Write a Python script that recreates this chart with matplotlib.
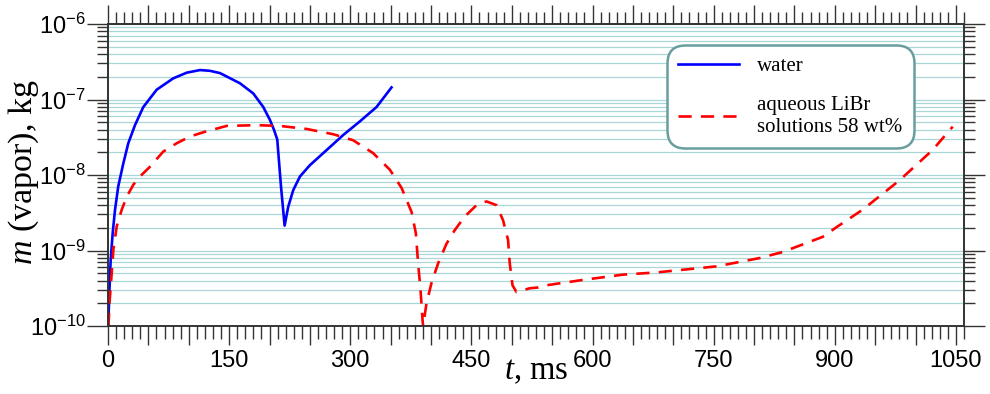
import numpy as np
import matplotlib.pyplot as plt
from matplotlib.ticker import MultipleLocator, FuncFormatter, LogLocator, NullFormatter

plt.rcParams["mathtext.fontset"] = "custom"
plt.rcParams["mathtext.it"] = "Liberation Serif:italic"
plt.rcParams["mathtext.rm"] = "Liberation Sans"

# water, t in ms, log10 of m in kg
t_water = [0.3, 1.6, 3.3, 5.8, 8.7, 12.7, 18.9, 25.1, 33.4, 43.7, 60.3, 80.8,
           97.4, 113.9, 126.2, 138.6, 163.4, 179.9, 192.3, 200.5, 205.5, 209.6,
           214.2, 218.7, 223.2, 229.4, 237.7, 250.0, 270.7, 291.3, 311.9, 332.5,
           351.1]
log_m_water = [-10.0, -9.57, -9.13, -8.77, -8.46, -8.15, -7.85, -7.58, -7.34,
               -7.10, -6.87, -6.72, -6.645, -6.61, -6.62, -6.65, -6.785, -6.92,
               -7.10, -7.27, -7.40, -7.53, -8.15, -8.67, -8.42, -8.20, -8.02,
               -7.87, -7.67, -7.47, -7.29, -7.10, -6.84]
m_water = [10 ** v for v in log_m_water]

# aqueous LiBr 58 wt%
t_libr = [0.6, 2.1, 4.6, 6.6, 10.8, 17.0, 23.1, 31.3, 39.6, 52.0, 68.4, 85.0,
          101.5, 122.2, 136.5, 146.9, 184.0, 212.9, 245.9, 278.8, 303.6, 328.3,
          349.0, 363.5, 375.9, 381.2, 384.0, 387.0, 389.5, 390.2, 394.4, 400.6,
          408.8, 419.2, 429.4, 441.8, 456.3, 468.7, 481.1, 489.2, 495.4, 497.5,
          500.9, 505.8, 522.3, 532.5, 543.3, 587.9, 637.4, 679.5, 753.7, 807.0,
          835.4, 884.9, 902.3, 934.4, 980.2, 1021.0, 1046.0]
log_m_libr = [-10.0, -9.66, -9.30, -8.99, -8.68, -8.46, -8.29, -8.13, -8.02,
              -7.89, -7.69, -7.58, -7.49, -7.42, -7.38, -7.35, -7.34, -7.35,
              -7.39, -7.46, -7.54, -7.71, -7.93, -8.17, -8.49, -8.77, -9.17,
              -9.52, -9.92, -10.0, -9.70, -9.43, -9.17, -8.91, -8.73, -8.55,
              -8.40, -8.35, -8.40, -8.60, -8.86, -9.17, -9.46, -9.55, -9.50,
              -9.49, -9.46, -9.39, -9.32, -9.29, -9.21, -9.10, -9.02, -8.82,
              -8.69, -8.46, -8.07, -7.67, -7.36]
m_libr = [10 ** v for v in log_m_libr]

labels = ["water", "aqueous LiBr\nsolutions 58 wt%"]

fig = plt.figure(figsize=(9.9, 3.94), dpi=100)
ax = fig.add_axes([108 / 990, 1 - 326 / 394, 856 / 990, 302 / 394])

ax.plot(t_water, m_water, color="#0000ff", lw=1.9, label=labels[0])
ax.plot(t_libr, m_libr, color="#ff0000", lw=1.9, dashes=(5, 3.5), label=labels[1])

ax.set_yscale("log")
ax.set_ylim(1e-10, 1e-6)
ax.set_xlim(0, 1060)

# grid lines at every log subdivision
ax.yaxis.set_major_locator(LogLocator(base=10, numticks=10))
ax.yaxis.set_minor_locator(LogLocator(base=10, subs=np.arange(2, 10), numticks=20))
ax.yaxis.set_minor_formatter(NullFormatter())
ax.grid(True, which="both", axis="y", color="#a9d6d6", lw=0.9)
ax.set_axisbelow(True)

ax.xaxis.set_major_locator(MultipleLocator(50))
ax.xaxis.set_minor_locator(MultipleLocator(10))
ax.xaxis.set_major_formatter(FuncFormatter(lambda v, p: f"{v:.0f}" if round(v) % 150 == 0 else ""))

ax.yaxis.set_major_formatter(FuncFormatter(lambda v, p: r"$\mathregular{10^{%d}}$" % round(np.log10(v))))

ax.tick_params(axis="both", which="both", direction="out", colors="#333333",
               labelcolor="black", labelsize=17, top=True, right=True, width=1.0)
ax.tick_params(axis="x", which="major", length=14, pad=3)
ax.tick_params(axis="x", which="minor", length=9)
ax.tick_params(axis="y", which="major", length=15, pad=1)
ax.tick_params(axis="y", which="minor", length=8)
for lab in ax.get_xticklabels() + ax.get_yticklabels():
    lab.set_family("Liberation Sans")

for s in ax.spines.values():
    s.set_color("#333333")
    s.set_linewidth(1.4)

ax.set_xlabel(r"$\mathit{t}$, ms", family="Liberation Serif", fontsize=23.5)
ax.xaxis.set_label_coords(0.5, -0.1)
ax.set_ylabel(r"$\mathit{m}$ (vapor), kg", family="Liberation Serif", fontsize=24.5)
ax.yaxis.set_label_coords(-0.078, 0.51)

leg = ax.legend(loc="upper left", bbox_to_anchor=(667 / 990, 1 - 45 / 394),
                bbox_transform=fig.transFigure, borderaxespad=0,
                prop={"family": "Liberation Serif", "size": 15},
                frameon=True, fancybox=True, framealpha=1, edgecolor="#6a9e9e",
                handlelength=2.9, borderpad=0.55, labelspacing=0.95, handletextpad=0.87)
leg.get_frame().set_linewidth(1.8)
leg.get_frame().set_boxstyle("round,pad=0,rounding_size=0.85")

fig.savefig("out.png", dpi=100)
